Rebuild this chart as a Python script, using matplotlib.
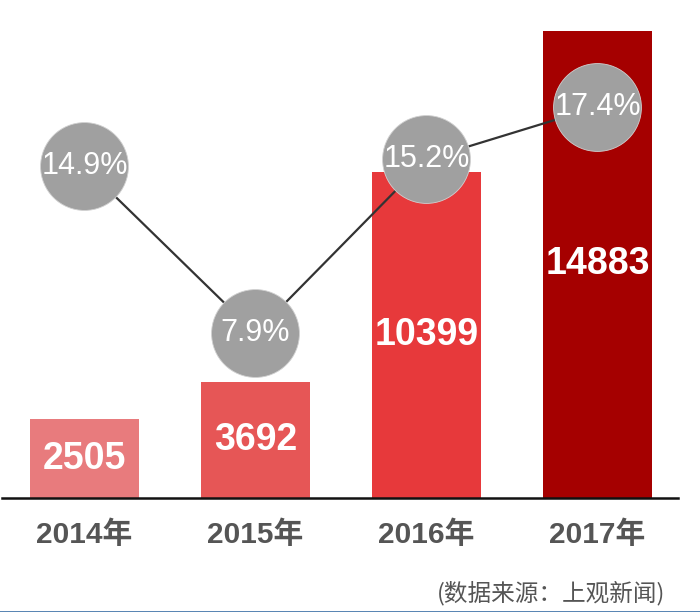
import numpy as np
import matplotlib
matplotlib.use("Agg")
import matplotlib.pyplot as plt
from matplotlib.lines import Line2D

years = ["2014年", "2015年", "2016年", "2017年"]
values = [2505, 3692, 10399, 14883]
growth = [14.9, 7.9, 15.2, 17.4]
bar_colors = ["#E87B7D", "#E65656", "#E7393B", "#A50000"]

latin_cjk = ["Liberation Sans", "Noto Sans CJK SC"]

fig = plt.figure(figsize=(7, 6.12), dpi=100)
ax = fig.add_axes([2 / 700, 114 / 612, 676 / 700, 478 / 612])
x = np.arange(len(years))

ax.bar(x, values, width=0.64, color=bar_colors, zorder=1)
for xi, v in zip(x, values):
    ax.text(xi, v * 0.5, f"{v}", ha="center", va="center", color="white",
            fontsize=27, fontweight="bold", family=latin_cjk, zorder=2)

ax.set_xlim(-0.482, 3.471)
ax.set_ylim(0, 15230)
ax.set_yticks([])
ax.set_xticks([])
for s in ["top", "right", "left"]:
    ax.spines[s].set_visible(False)
ax.spines["bottom"].set_linewidth(1.8)
ax.spines["bottom"].set_color("#111111")

trans = ax.get_xaxis_transform()
for xi, lab in zip(x, years):
    ax.text(xi, -0.0774, lab, transform=trans, ha="center", va="center",
            fontsize=21.5, fontweight="bold", color="#555555", family=latin_cjk)

# growth rate on a second axis
ax2 = ax.twinx()
ax2.set_ylim(0.98, 21.05)
ax2.set_axis_off()
ax2.plot(x, growth, color="#333333", lw=1.6, zorder=3)
ax2.scatter(x, growth, s=4000, color="#A0A0A0", edgecolor="#D0D0D0",
            linewidth=0.6, zorder=4)
for xi, g in zip(x, growth):
    ax2.text(xi, g, f"{g}%", ha="center", va="center", color="white",
             fontsize=22, family=latin_cjk, zorder=5)

fig.text(665 / 700, 1 - 593 / 612, "(数据来源：上观新闻)", ha="right", va="center",
         fontsize=17, color="#555555", family=["Noto Sans CJK SC", "DejaVu Sans"])

fig.add_artist(Line2D([0, 1], [0.5 / 612, 0.5 / 612], color="#3A6EA5", lw=1.2,
                      transform=fig.transFigure))

fig.savefig("out.png", dpi=100, facecolor="white")
